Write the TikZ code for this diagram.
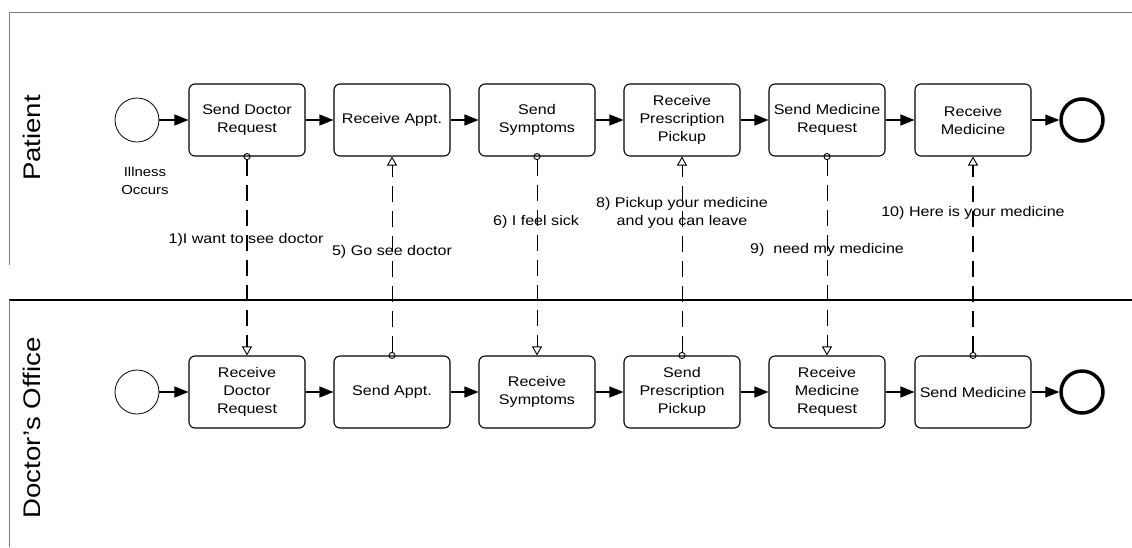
\documentclass[tikz,border=0pt]{standalone}
\usepackage{fontspec}
\setmainfont{Liberation Sans}[FakeStretch=1.15]
\usetikzlibrary{arrows.meta}

\tikzset{
  task/.style={draw,rounded corners=6pt,line width=1.1pt,minimum width=116pt,minimum height=72pt,
    align=center,inner sep=2pt,font=\fontsize{14}{18}\selectfont},
  startev/.style={draw,circle,minimum size=44pt,inner sep=0pt,line width=0.8pt},
  endev/.style={draw,circle,minimum size=42pt,inner sep=0pt,line width=3.5pt},
  seq/.style={-{Triangle[length=14pt,width=11pt]},line width=1.1pt},
  msg/.style={{Circle[open,length=7pt,line width=0.9pt]}-{Triangle[open,length=9pt,width=10pt,line width=0.9pt]},
    dash pattern=on 16pt off 9pt,line width=1pt,shorten <=-3.5pt},
  msglabel/.style={font=\fontsize{14}{18}\selectfont,align=center,inner sep=0pt},
  lanelabel/.style={font=\fontsize{24}{28}\selectfont,rotate=90}
}

\begin{document}
\begin{tikzpicture}[x=1pt,y=-1pt]
   \useasboundingbox (0,0) rectangle (1132,547);

   % pools
   \draw[gray,line width=0.9pt] (9,265) -- (9,12) -- (1132,12);
   \draw[line width=1.3pt] (9,300) -- (1132,300);
   \draw[gray,line width=0.9pt] (9,300) -- (9,547);
   \node[lanelabel] (lpat) at (32,138) {Patient};
   \node[lanelabel] (ldoc) at (32,428) {Doctor's Office};

   % patient
   \node[startev] (ps) at (137,120) {};
   \node[font=\fontsize{13}{18}\selectfont,align=center] (ill) at (145,181) {Illness\\Occurs};
   \node[task] (p1) at (247,120) {Send Doctor\\Request};
   \node[task] (p2) at (392,120) {Receive Appt.};
   \node[task] (p3) at (537,120) {Send\\Symptoms};
   \node[task] (p4) at (682,120) {Receive\\Prescription\\Pickup};
   \node[task] (p5) at (827,120) {Send Medicine\\Request};
   \node[task] (p6) at (973,120) {Receive\\Medicine};
   \node[endev] (pe) at (1082,120) {};

   % doctor's office
   \node[startev] (ds) at (137,392) {};
   \node[task] (d1) at (247,392) {Receive\\Doctor\\Request};
   \node[task] (d2) at (392,392) {Send Appt.};
   \node[task] (d3) at (537,392) {Receive\\Symptoms};
   \node[task] (d4) at (682,392) {Send\\Prescription\\Pickup};
   \node[task] (d5) at (827,392) {Receive\\Medicine\\Request};
   \node[task] (d6) at (973,392) {Send Medicine};
   \node[endev] (de) at (1082,392) {};

   \path (ps) edge[seq] (p1);
   \path (p1) edge[seq] (p2);
   \path (p2) edge[seq] (p3);
   \path (p3) edge[seq] (p4);
   \path (p4) edge[seq] (p5);
   \path (p5) edge[seq] (p6);
   \path (p6) edge[seq] (pe);

   \path (ds) edge[seq] (d1);
   \path (d1) edge[seq] (d2);
   \path (d2) edge[seq] (d3);
   \path (d3) edge[seq] (d4);
   \path (d4) edge[seq] (d5);
   \path (d5) edge[seq] (d6);
   \path (d6) edge[seq] (de);

   % messages
   \path (p1) edge[msg,line width=1.8pt] (d1);
   \path (d2) edge[msg,line width=0.7pt] (p2);
   \path (p3) edge[msg] (d3);
   \path (d4) edge[msg] (p4);
   \path (p5) edge[msg] (d5);
   \path (d6) edge[msg,line width=1.3pt] (p6);

   \node[msglabel] (m1) at (246,240) {1)I want to see doctor};
   \node[msglabel] (m5) at (392,252) {5) Go see doctor};
   \node[msglabel] (m6) at (536,222) {6) I feel sick};
   \node[msglabel] (m8) at (682,213) {8) Pickup your medicine\\and you can leave};
   \node[msglabel] (m9) at (827,250) {9)\ \ need my medicine};
   \node[msglabel] (m10) at (973,213) {10) Here is your medicine};
\end{tikzpicture}
\end{document}
